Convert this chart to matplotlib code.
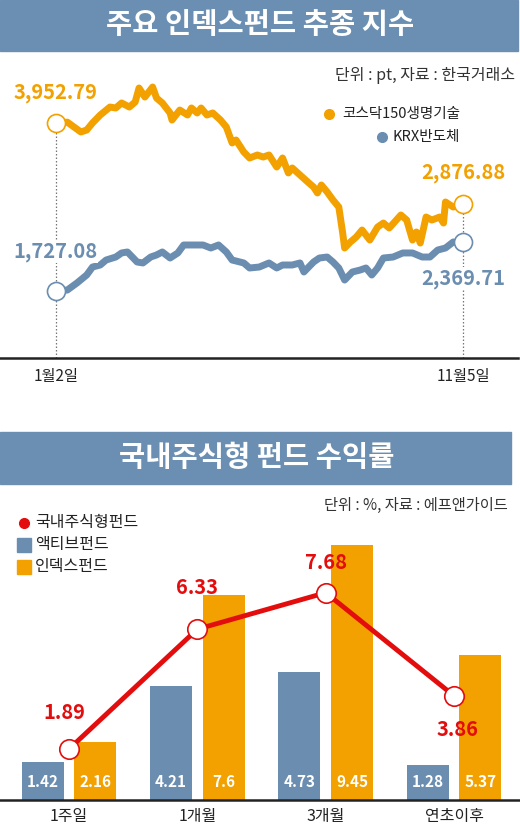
import numpy as np
import matplotlib.pyplot as plt
from matplotlib.patches import Rectangle

plt.rcParams['font.family'] = ['Noto Sans CJK KR', 'DejaVu Sans']

W, H = 520, 825
ORANGE = '#f2a100'
BLUE = '#6a8db0'
RED = '#e30d0d'
BANNER = '#6b8fb2'

# 상단: 지수 추이 (1월2일=0 기준 거래일, 단위 pt)
bio_days = [0, 6, 13, 16, 19, 23, 28, 31, 34, 38, 41, 43, 46, 50, 52, 55, 59, 60,
            64, 68, 70, 73, 75, 78, 81, 85, 88, 91, 93, 97, 100, 104, 107, 110,
            114, 117, 120, 122, 126, 130, 133, 135, 137, 140, 143, 146, 148, 149,
            152, 155, 158, 162, 166, 169, 172, 178, 181, 184, 186, 188, 191, 194,
            198, 200, 201, 205, 210]
bio_vals = [3952.79, 3970, 3839, 3865, 3959, 4065, 4171, 4158, 4225, 4171, 4238,
            4424, 4304, 4437, 4291, 4225, 4092, 3998, 4131, 4065, 4158, 4092, 4158,
            4065, 4092, 3998, 3905, 3693, 3732, 3573, 3493, 3533, 3506, 3533, 3373,
            3493, 3294, 3360, 3267, 3174, 3107, 3028, 3134, 3041, 2934, 2841, 2496,
            2296, 2376, 2442, 2535, 2402, 2575, 2628, 2562, 2735, 2668, 2402, 2509,
            2362, 2708, 2668, 2708, 2628, 2908, 2841, 2876.88]
semi_days = [0, 6, 11, 16, 19, 23, 26, 31, 34, 37, 42, 45, 49, 52, 55, 59, 63, 66,
             71, 76, 80, 84, 88, 91, 97, 100, 105, 110, 114, 117, 122, 126, 128,
             133, 136, 140, 143, 146, 149, 153, 157, 160, 163, 166, 169, 174, 179,
             184, 189, 193, 197, 201, 205, 210]
semi_vals = [1727.08, 1737, 1831, 1937, 2043, 2070, 2136, 2176, 2230, 2243, 2110,
             2097, 2176, 2203, 2243, 2163, 2230, 2336, 2336, 2336, 2296, 2336, 2243,
             2136, 2097, 2030, 2043, 2097, 2030, 2070, 2070, 2097, 1977, 2110, 2163,
             2176, 2110, 2030, 1870, 1977, 2003, 2030, 1937, 2030, 2163, 2176, 2230,
             2230, 2176, 2176, 2269, 2296, 2376, 2369.71]
date_ticks = [0, 210]
date_labels = ['1월2일', '11월5일']

# 하단: 국내주식형 펀드 수익률 (%)
periods = ['1주일', '1개월', '3개월', '연초이후']
active = [1.42, 4.21, 4.73, 1.28]
index_fund = [2.16, 7.6, 9.45, 5.37]
domestic = [1.89, 6.33, 7.68, 3.86]


def fx(x):
    return x / W


def fy(y):
    return 1 - y / H


fig = plt.figure(figsize=(W / 100, H / 100), dpi=100)

# 제목 띠
fig.patches.append(Rectangle((0, fy(51)), fx(518), 51 / H, transform=fig.transFigure,
                             color=BANNER, zorder=0))
fig.text(fx(260), fy(25), '주요 인덱스펀드 추종 지수', ha='center', va='center',
         color='white', fontsize=20.5, fontweight='bold')
fig.patches.append(Rectangle((0, fy(484)), fx(511), 52 / H, transform=fig.transFigure,
                             color=BANNER, zorder=0))
fig.text(fx(257), fy(458), '국내주식형 펀드 수익률', ha='center', va='center',
         color='white', fontsize=20.5, fontweight='bold')

# ---- 상단 라인 차트
ax1 = fig.add_axes([0, fy(358), fx(518), (358 - 55) / H])
ax1.set_xlim(-28.7, 238.4)
ax1.set_ylim(833, 4863)
for s in ['top', 'left', 'right']:
    ax1.spines[s].set_visible(False)
ax1.spines['bottom'].set_linewidth(1.8)
ax1.spines['bottom'].set_color('#222222')
ax1.set_yticks([])
ax1.set_xticks(date_ticks)
ax1.set_xticklabels(date_labels, fontsize=11, color='#222222')
ax1.tick_params(axis='x', length=0, pad=7)

ylo = ax1.get_ylim()[0]
for d, v in [(date_ticks[0], bio_vals[0]), (date_ticks[1], bio_vals[-1])]:
    ax1.plot([d, d], [ylo, v], ls=(0, (1.2, 1.6)), color='#777777', lw=0.9, zorder=1)

ax1.plot(bio_days, bio_vals, color=ORANGE, lw=5, solid_joinstyle='round',
         solid_capstyle='round', zorder=3)
ax1.plot(semi_days, semi_vals, color=BLUE, lw=5, solid_joinstyle='round',
         solid_capstyle='round', zorder=3)
ax1.plot([bio_days[0], bio_days[-1]], [bio_vals[0], bio_vals[-1]], 'o', ms=13,
         mfc='white', mec=ORANGE, mew=1.2, zorder=5)
ax1.plot([semi_days[0], semi_days[-1]], [semi_vals[0], semi_vals[-1]], 'o', ms=13,
         mfc='white', mec=BLUE, mew=1.2, zorder=5)

end_labels = [
    (bio_days[0], bio_vals[0], ORANGE, 31),
    (semi_days[0], semi_vals[0], BLUE, 39),
    (bio_days[-1], bio_vals[-1], ORANGE, 32),
    (semi_days[-1], semi_vals[-1], BLUE, -36),
]
for d, v, c, dy in end_labels:
    ax1.annotate(f'{v:,.2f}', (d, v), xytext=(0, dy * 0.72), textcoords='offset points',
                 ha='center', va='center', color=c, fontsize=14.5, fontweight='bold',
                 bbox=dict(fc='white', ec='none', pad=0.5), zorder=6)

fig.text(fx(515), fy(75), '단위 : pt, 자료 : 한국거래소', ha='right', va='center',
         fontsize=11.5, color='#333333')
fig.text(fx(342), fy(114), '코스닥150생명기술', ha='left', va='center', fontsize=10.5,
         color='#222222')
fig.text(fx(393), fy(137), 'KRX반도체', ha='left', va='center', fontsize=10.5,
         color='#222222')
fig.add_artist(plt.Line2D([fx(329)], [fy(114)], marker='o', ms=7, color=ORANGE,
                          transform=fig.transFigure))
fig.add_artist(plt.Line2D([fx(382)], [fy(137)], marker='o', ms=7, color=BLUE,
                          transform=fig.transFigure))

# ---- 하단 막대 + 라인 차트
ax2 = fig.add_axes([0, fy(800), 1.0, (800 - 488) / H])
x = np.arange(len(periods))
off, bw = 0.206, 0.327
ax2.bar(x - off, active, width=bw, color=BLUE, zorder=2)
ax2.bar(x + off, index_fund, width=bw, color=ORANGE, zorder=2)
ax2.plot(x, domestic, color=RED, lw=3.5, marker='o', ms=14, mfc='white', mec=RED,
         mew=1.2, zorder=4)
ax2.set_xlim(-0.538, 3.514)
ax2.set_ylim(0, 11.56)
for s in ['top', 'left', 'right']:
    ax2.spines[s].set_visible(False)
ax2.spines['bottom'].set_linewidth(1.8)
ax2.spines['bottom'].set_color('#222222')
ax2.set_yticks([])
ax2.set_xticks(x)
ax2.set_xticklabels(periods, fontsize=11.5, color='#222222')
ax2.tick_params(axis='x', length=0, pad=6)

for i in range(len(periods)):
    ax2.annotate(f'{active[i]:g}', (x[i] - off, 0), xytext=(0, 13), textcoords='offset points',
                 ha='center', va='center', color='white', fontsize=11, fontweight='bold')
    ax2.annotate(f'{index_fund[i]:g}', (x[i] + off, 0), xytext=(0, 13), textcoords='offset points',
                 ha='center', va='center', color='white', fontsize=11, fontweight='bold')

line_offsets = [(-5, 36), (0, 42), (0, 30), (3, -34)]
for i, (dx, dy) in enumerate(line_offsets):
    ax2.annotate(f'{domestic[i]:g}', (x[i], domestic[i]), xytext=(dx * 0.72, dy * 0.72),
                 textcoords='offset points', ha='center', va='center', color=RED,
                 fontsize=14.5, fontweight='bold')

fig.text(fx(508), fy(505), '단위 : %, 자료 : 에프앤가이드', ha='right', va='center',
         fontsize=11, color='#333333')
legend_items = [('국내주식형펀드', RED, 'o', 523), ('액티브펀드', BLUE, 's', 545),
                ('인덱스펀드', ORANGE, 's', 567)]
for label, c, m, yy in legend_items:
    ms = 7 if m == 'o' else 10
    fig.add_artist(plt.Line2D([fx(24)], [fy(yy)], marker=m, ms=ms, color=c, lw=0,
                              transform=fig.transFigure))
    fig.text(fx(35), fy(yy), label, ha='left', va='center', fontsize=11.5, color='#222222')

fig.savefig('out.png', dpi=100)
